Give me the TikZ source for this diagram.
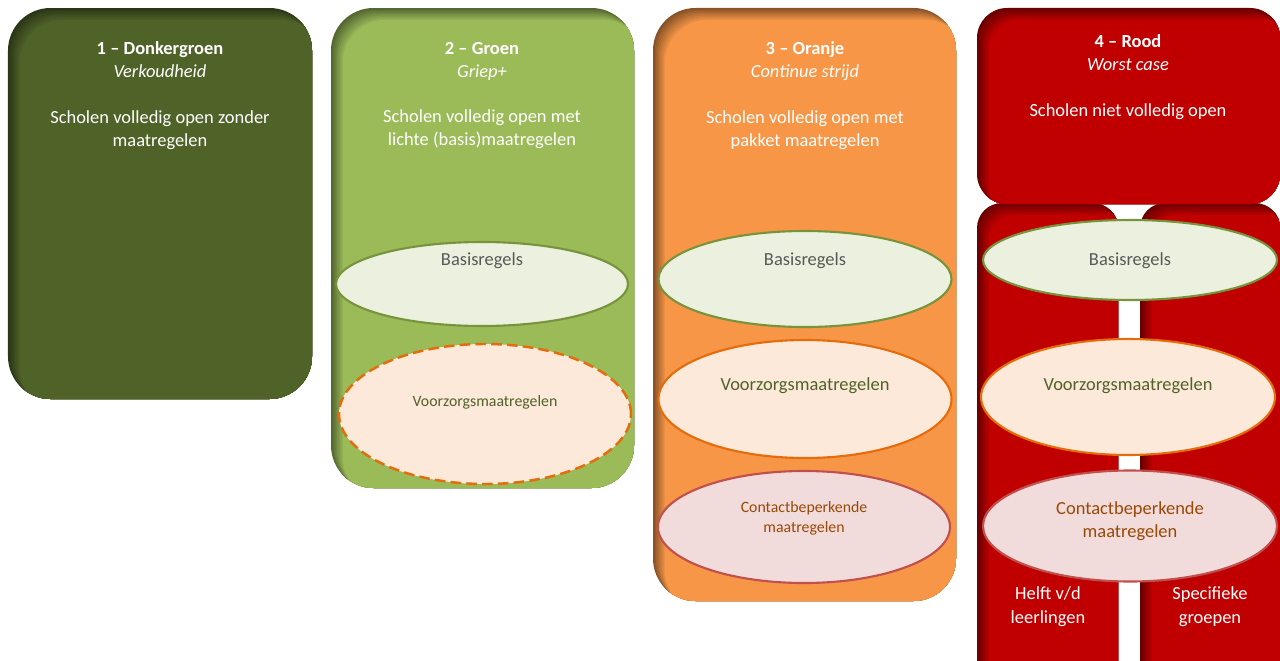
\documentclass[tikz,border=0pt]{standalone}
\usepackage{fontspec}
\setmainfont{Carlito}
\usepackage{xcolor}
\usepackage{tikz}
\usetikzlibrary{shapes.geometric,positioning}

\definecolor{donkergroen}{HTML}{4F6228}
\definecolor{groen}{HTML}{9BBB59}
\definecolor{oranje}{HTML}{F79646}
\definecolor{rood}{HTML}{C00000}
\definecolor{basisfill}{HTML}{EBF1DE}
\definecolor{basisline}{HTML}{77933C}
\definecolor{voorzfill}{HTML}{FDE9D9}
\definecolor{voorzline}{HTML}{E46C0A}
\definecolor{contfill}{HTML}{F2DCDB}
\definecolor{contline}{HTML}{C0504D}
\definecolor{tekstgrijs}{HTML}{595959}
\definecolor{tekstbruin}{HTML}{984807}

\tikzset{
  panel/.style args={#1/#2}{rounded corners=#2, inner sep=0pt, fill=#1!55!black,
    path picture={
      \foreach \k [evaluate=\k as \p using int(55+45*\k/8)] in {1,...,8}
        \fill[#1!\p!black, rounded corners=#2]
          ([shift={(0.03*\k,-0.03*\k)}]path picture bounding box.south west)
          rectangle ([shift={(0.03*\k,-0.03*\k)}]path picture bounding box.north east);
    }},
  basis/.style={ellipse, draw=basisline, fill=basisfill, line width=1.2pt, inner sep=0pt},
  voorz/.style={ellipse, draw=voorzline, fill=voorzfill, line width=1.2pt, inner sep=0pt},
  cont/.style={ellipse, draw=contline, fill=contfill, line width=1.2pt, inner sep=0pt},
  kop/.style={text=white, align=center, font=\fontsize{10.5}{13}\selectfont},
  etekst/.style={align=center, font=\fontsize{10.5}{13}\selectfont},
  kleintekst/.style={align=center, font=\fontsize{9}{11}\selectfont},
}

\begin{document}
\begin{tikzpicture}
     \useasboundingbox (0,0) rectangle (25.6,-13.22);
     \clip (0,0) rectangle (25.6,-13.22);

     % 1 - donkergroen
     \node[panel=donkergroen/0.85cm, minimum width=6.08cm, minimum height=7.82cm] (paneel1) at (3.20,-4.07) {};
     \node[kop] (kop1) at (3.20,-1.91) {\textbf{1 -- Donkergroen}\\\textit{Verkoudheid}\\[13pt]Scholen volledig open zonder\\maatregelen};

     % 2 - groen
     \node[panel=groen/0.85cm, minimum width=6.06cm, minimum height=9.60cm] (paneel2) at (9.65,-4.96) {};
     \node[kop] (kop2) at (9.64,-1.91) {\textbf{2 -- Groen}\\\textit{Griep+}\\[13pt]Scholen volledig open met\\lichte (basis)maatregelen};
     \node[basis, minimum width=5.84cm, minimum height=1.68cm] (basis2) at (9.64,-5.68) {};
     \node[etekst, text=tekstgrijs] (basis2t) at (9.64,-5.22) {Basisregels};
     \node[voorz, dashed, dash pattern=on 6pt off 3pt, line width=1.4pt, minimum width=5.84cm, minimum height=2.80cm] (voorz2) at (9.70,-8.28) {};
     \node[kleintekst, text=donkergroen] (voorz2t) at (9.70,-8.04) {Voorzorgsmaatregelen};

     % 3 - oranje
     \node[panel=oranje/0.85cm, minimum width=6.06cm, minimum height=11.86cm] (paneel3) at (16.09,-6.09) {};
     \node[kop] (kop3) at (16.10,-1.91) {\textbf{3 -- Oranje}\\\textit{Continue strijd}\\[13pt]Scholen volledig open met\\pakket maatregelen};
     \node[basis, minimum width=5.86cm, minimum height=1.92cm] (basis3) at (16.10,-5.58) {};
     \node[etekst, text=tekstgrijs] (basis3t) at (16.10,-5.22) {Basisregels};
     \node[voorz, minimum width=5.86cm, minimum height=2.36cm] (voorz3) at (16.10,-7.98) {};
     \node[etekst, text=donkergroen] (voorz3t) at (16.10,-7.72) {Voorzorgsmaatregelen};
     \node[cont, minimum width=5.84cm, minimum height=2.24cm] (cont3) at (16.08,-10.54) {};
     \node[kleintekst, text=tekstbruin] (cont3t) at (16.08,-10.37) {Contactbeperkende\\maatregelen};

     % 4 - rood
     \node[panel=rood/0.5cm, minimum width=2.82cm, minimum height=9.74cm] (kolom4a) at (20.95,-8.93) {};
     \node[panel=rood/0.5cm, minimum width=2.80cm, minimum height=9.74cm] (kolom4b) at (24.20,-8.93) {};
     \node[panel=rood/0.6cm, minimum width=6.06cm, minimum height=3.92cm] (paneel4) at (22.57,-2.12) {};
     \node[kop] (kop4) at (22.56,-1.54) {\textbf{4 -- Rood}\\\textit{Worst case}\\[13pt]Scholen niet volledig open};
     \node[basis, minimum width=5.88cm, minimum height=1.60cm] (basis4) at (22.60,-5.20) {};
     \node[etekst, text=tekstgrijs] (basis4t) at (22.60,-5.22) {Basisregels};
     \node[voorz, minimum width=5.88cm, minimum height=2.32cm] (voorz4) at (22.56,-7.94) {};
     \node[etekst, text=donkergroen] (voorz4t) at (22.56,-7.72) {Voorzorgsmaatregelen};
     \node[cont, minimum width=5.88cm, minimum height=2.22cm] (cont4) at (22.60,-10.52) {};
     \node[etekst, text=tekstbruin] (cont4t) at (22.60,-10.43) {Contactbeperkende\\maatregelen};
     \node[kop, font=\fontsize{10.5}{14}\selectfont] (helft) at (20.96,-12.13) {Helft v/d\\leerlingen};
     \node[kop, font=\fontsize{10.5}{14}\selectfont] (specifiek) at (24.20,-12.13) {Specifieke\\groepen};
\end{tikzpicture}
\end{document}
